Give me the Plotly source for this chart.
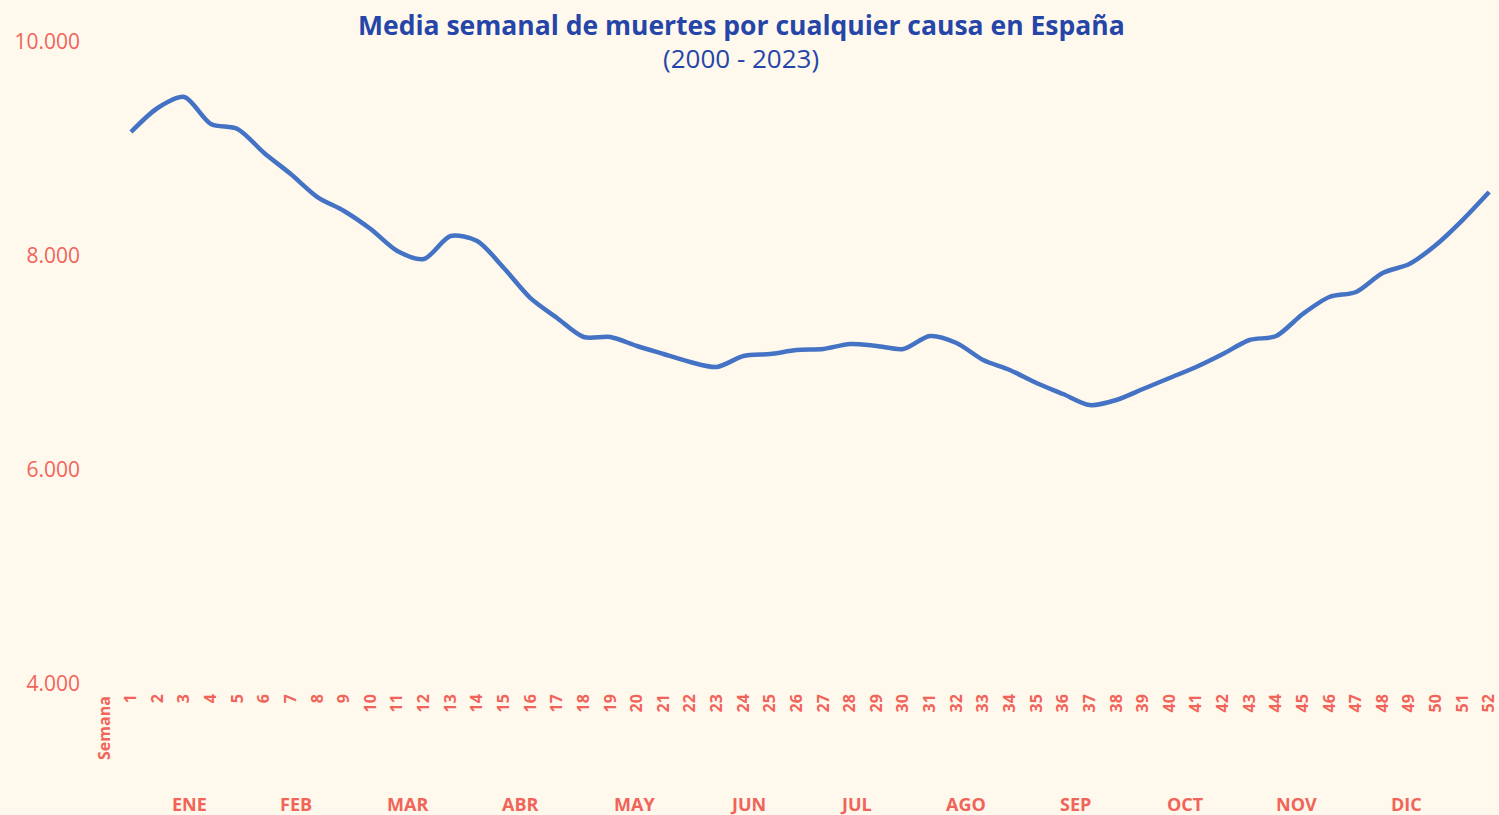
import plotly.graph_objects as go

weeks = list(range(1, 53))
deaths = [9159, 9383, 9486, 9234, 9187, 8963, 8766, 8551, 8421, 8252,
          8047, 7972, 8187, 8140, 7888, 7607, 7421, 7243, 7243, 7159,
          7084, 7009, 6963, 7065, 7084, 7121, 7131, 7178, 7159, 7131,
          7252, 7187, 7028, 6935, 6813, 6710, 6607, 6654, 6757, 6860,
          6963, 7084, 7215, 7252, 7458, 7617, 7664, 7841, 7925, 8103,
          8336, 8598]
month_labels = ["ENE", "FEB", "MAR", "ABR", "MAY", "JUN", "JUL", "AGO", "SEP", "OCT", "NOV", "DIC"]
month_pos = [3.18, 7.2, 11.37, 15.64, 19.89, 24.17, 28.22, 32.35, 36.48, 40.58, 44.78, 48.91]
y_ticks = [4000, 6000, 8000, 10000]

BG = "#FFF8EC"
SALMON = "#F0645A"
BLUE_T = "#2546A8"
LINE = "#4472C4"
FONT = "Open Sans"

fig = go.Figure()
fig.add_trace(go.Scatter(x=weeks, y=deaths, mode="lines",
                         line=dict(color=LINE, width=4.5, shape="spline", smoothing=0.8),
                         hoverinfo="x+y", showlegend=False))

W, H = 1499, 815
ml, mr, mt, mb = 105, 0, 42, 131
pw = W - ml - mr
ph = H - mt - mb

annotations = []
for lab, pos in zip(month_labels, month_pos):
    annotations.append(dict(x=pos, xref="x", y=-(804 - 684) / ph, yref="paper",
                            text=f"<b>{lab}</b>", showarrow=False,
                            font=dict(family=FONT, size=18, color=SALMON),
                            xanchor="center", yanchor="middle"))
annotations.append(dict(x=(104 - ml) / pw, xref="paper", y=-(694 - 684) / ph, yref="paper",
                        text="<b>Semana</b>", showarrow=False, textangle=-90,
                        font=dict(family=FONT, size=16, color=SALMON),
                        xanchor="center", yanchor="top"))
annotations.append(dict(x=(741 - ml) / pw, xref="paper", y=1 + (42 - 25) / ph, yref="paper",
                        text="<b>Media semanal de muertes por cualquier causa en España</b>",
                        showarrow=False, font=dict(family=FONT, size=26.5, color=BLUE_T),
                        xanchor="center", yanchor="middle"))
annotations.append(dict(x=(741 - ml) / pw, xref="paper", y=1 + (42 - 58) / ph, yref="paper",
                        text="(2000 - 2023)",
                        showarrow=False, font=dict(family=FONT, size=26, color=BLUE_T),
                        xanchor="center", yanchor="middle"))

fig.update_layout(
    width=W, height=H,
    margin=dict(l=ml, r=mr, t=mt, b=mb, pad=0),
    paper_bgcolor=BG, plot_bgcolor=BG,
    separators=",.",
    annotations=annotations,
    xaxis=dict(range=[0.0237, 52.37], tickmode="array", tickvals=weeks,
               ticktext=[f"<b>{w}</b>" for w in weeks], tickangle=-90,
               tickfont=dict(family=FONT, size=16, color=SALMON),
               showgrid=False, zeroline=False, showline=False, ticks="",
               ticklabelstandoff=6, ticklabeloverflow="allow"),
    yaxis=dict(range=[4000, 10000], tickmode="array", tickvals=y_ticks,
               tickformat=",d",
               tickfont=dict(family=FONT, size=21, color=SALMON),
               showgrid=False, zeroline=False, showline=False, ticks="",
               ticklabelstandoff=24),
)

fig.write_html("out.html", config={"displayModeBar": False},
               post_script="document.body.style.margin='0';document.body.style.overflow='hidden';")
